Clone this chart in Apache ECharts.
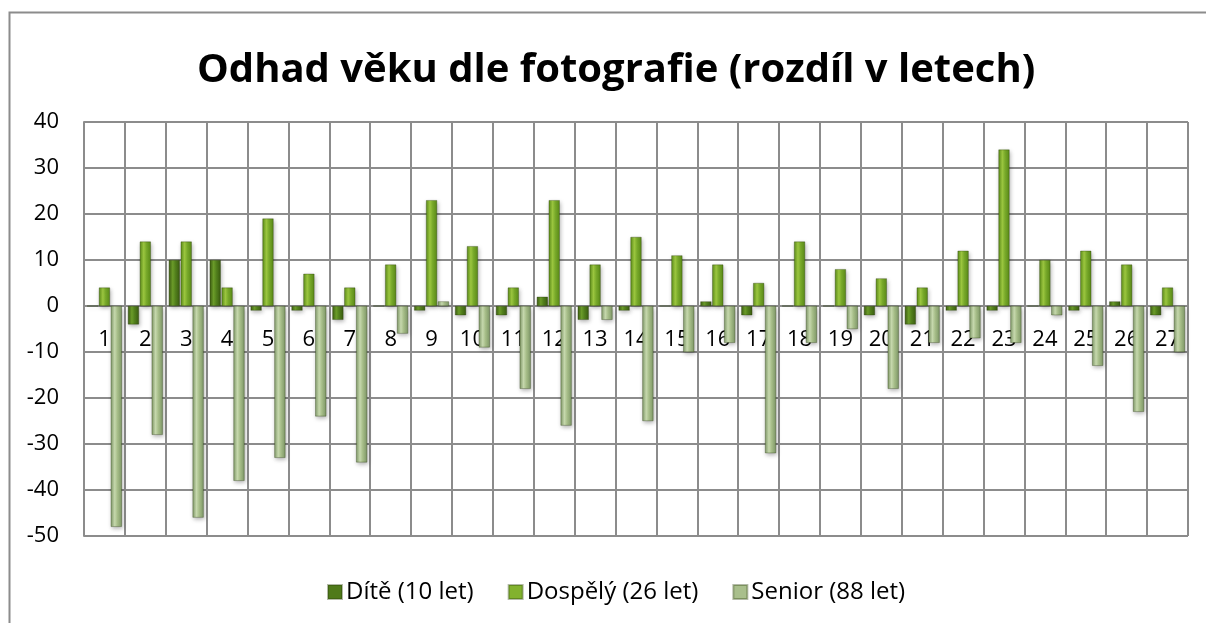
<!DOCTYPE html>
<html>
<head>
<meta charset="utf-8">
<script src="https://cdn.jsdelivr.net/npm/echarts@6/dist/echarts.min.js"></script>
<style>
html,body{margin:0;padding:0;background:#fff;}
#c{width:1206px;height:623px;}
</style>
</head>
<body>
<div id="c"></div>
<script>
const categories = ['1','2','3','4','5','6','7','8','9','10','11','12','13','14','15','16','17','18','19','20','21','22','23','24','25','26','27'];
const seriesNames = ['Dítě (10 let)','Dospělý (26 let)','Senior (88 let)'];
const diteValues = [0,-4,10,10,-1,-1,-3,0,-1,-2,-2,2,-3,-1,0,1,-2,0,0,-2,-4,-1,-1,0,-1,1,-2];
const dospelyValues = [4,14,14,4,19,7,4,9,23,13,4,23,9,15,11,9,5,14,8,6,4,12,34,10,12,9,4];
const seniorValues = [-48,-28,-46,-38,-33,-24,-34,-6,1,-9,-18,-26,-3,-25,-10,-8,-32,-8,-5,-18,-8,-7,-8,-2,-13,-23,-10];
const yTicks = {min:-50, max:40, interval:10};

function grad(edge, mid, light){
  return new echarts.graphic.LinearGradient(0,0,1,0,[
    {offset:0,color:edge},{offset:0.35,color:light},{offset:0.6,color:mid},{offset:1,color:edge}
  ]);
}
const colors = [
  grad('#3b5c12','#52801c','#6c9d2a'),
  grad('#5a8a18','#78a92a','#9cc740'),
  grad('#7f9868','#a6bd88','#c7d9ae')
];
const legendColors = ['#4f7a1a','#82b22e','#a9bf8c'];
const dataSets = [diteValues, dospelyValues, seniorValues];

const chart = echarts.init(document.getElementById('c'), null, {renderer:'canvas'});
chart.setOption({
  animation:false,
  backgroundColor:'#fff',
  title:{
    text:'Odhad věku dle fotografie (rozdíl v letech)',
    left:192, top:46,
    textStyle:{fontFamily:'Open Sans', fontWeight:'bold', fontSize:40, color:'#000'}
  },
  legend:{
    data:seriesNames.map((n,i)=>({name:n, itemStyle:{color:legendColors[i]}})),
    top:575, left:322,
    itemWidth:14, itemHeight:14, itemGap:34,
    icon:'rect',
    textStyle:{fontFamily:'Open Sans', fontSize:24, color:'#000', padding:[0,0,0,-1]}
  },
  grid:{left:84, right:18, top:122, bottom:87, containLabel:false},
  xAxis:{
    type:'category', data:categories, z:0,
    axisLine:{show:true, onZero:true, lineStyle:{color:'#8c8c8c', width:2}},
    axisTick:{show:false},
    axisLabel:{fontFamily:'Open Sans', fontSize:22, color:'#000', margin:23},
    splitLine:{show:true, lineStyle:{color:'#8c8c8c', width:2}}
  },
  yAxis:{
    type:'value', min:yTicks.min, max:yTicks.max, interval:yTicks.interval,
    axisLine:{show:true, lineStyle:{color:'#8c8c8c', width:2}},
    axisTick:{show:false},
    axisLabel:{fontFamily:'Open Sans', fontSize:22, color:'#000', margin:25},
    splitLine:{show:true, lineStyle:{color:'#8c8c8c', width:2}}
  },
  series: seriesNames.map((n,i)=>({
    name:n, type:'bar', data:dataSets[i], z:3,
    barWidth:11, barGap:'8%', barCategoryGap:'15%',
    itemStyle:{color:colors[i], borderColor:'rgba(40,60,10,0.35)', borderWidth:0.5,
      shadowColor:'rgba(0,0,0,0.3)', shadowBlur:4, shadowOffsetX:1, shadowOffsetY:2}
  })),
  graphic:[{
    type:'rect', left:7, top:10, silent:true,
    shape:{width:1300, height:700},
    style:{fill:'none', stroke:'#8c8c8c', lineWidth:2}
  }]
});
// place the category axis (line + labels) at the zero value, as in the reference
const zeroY = chart.convertToPixel({yAxisIndex:0}, 0);
const bottomY = chart.convertToPixel({yAxisIndex:0}, yTicks.min);
chart.setOption({xAxis:{offset: zeroY - bottomY}});
</script>
</body>
</html>
